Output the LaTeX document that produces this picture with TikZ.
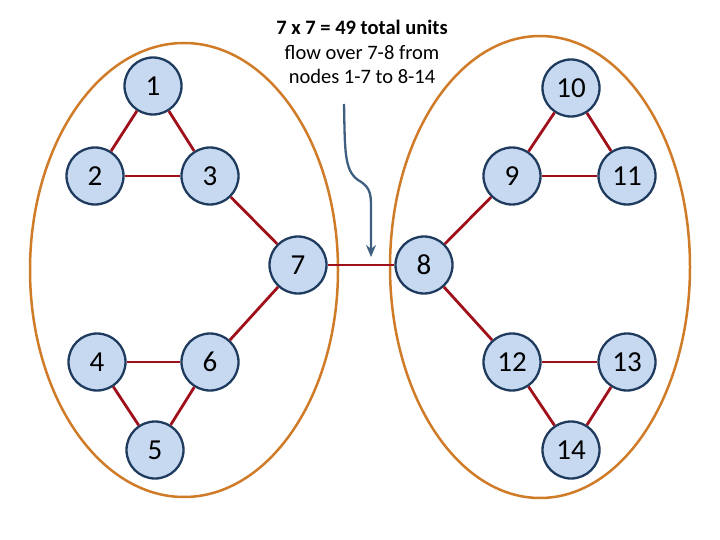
\documentclass[tikz,border=0pt]{standalone}
\usepackage{fontspec}
\setmainfont{Carlito}
\usetikzlibrary{arrows.meta}
\definecolor{nodefill}{HTML}{C6D9F1}
\definecolor{nodeline}{HTML}{1F3B5E}
\definecolor{edgered}{HTML}{A0101A}
\definecolor{ellorange}{HTML}{D07B28}
\definecolor{arrowblue}{HTML}{3E5F80}
\begin{document}
\begin{tikzpicture}[x=1pt,y=-1pt,
  vert/.style={circle,draw=nodeline,fill=nodefill,line width=2.3pt,minimum size=57pt,inner sep=0pt,font=\fontsize{29}{32}\selectfont},
  edge/.style={draw=edgered,line width=2.8pt},
  group/.style={draw=ellorange,line width=2.5pt}]
\useasboundingbox (0,0) rectangle (720,540);
\draw[group] (184,270) ellipse [x radius=154, y radius=227];
\draw[group] (540,267) ellipse [x radius=150, y radius=231];
\node[vert] (n1) at (153,86) {1};
\node[vert] (n2) at (95,176) {2};
\node[vert] (n3) at (210,176) {3};
\node[vert] (n7) at (298,265) {7};
\node[vert] (n4) at (97,362) {4};
\node[vert] (n6) at (210,362) {6};
\node[vert] (n5) at (155,450) {5};
\node[vert] (n8) at (424,265) {8};
\node[vert] (n9) at (512,176) {9};
\node[vert] (n10) at (571,88) {10};
\node[vert] (n11) at (627,176) {11};
\node[vert] (n12) at (512,362) {12};
\node[vert] (n13) at (627,362) {13};
\node[vert] (n14) at (571,450) {14};
\foreach \a/\b in {n1/n2,n1/n3,n2/n3,n3/n7,n7/n6,n6/n4,n4/n5,n5/n6,n7/n8,n8/n9,n9/n10,n10/n11,n9/n11,n8/n12,n12/n13,n12/n14,n13/n14}
  \draw[edge] (\a) -- (\b);
\node[align=center,font=\fontsize{20.5}{24.5}\selectfont] (lbl) at (362,52) {\textbf{7 x 7 = 49 total units}\\flow over 7-8 from\\nodes 1-7 to 8-14};
\coordinate (as) at (344,104);
\coordinate (ae) at (371,257);
\draw[arrowblue,line width=2.3pt,-{Stealth[length=12pt,width=10pt]}] (as) .. controls (345,150) and (344,170) .. (358,180) .. controls (372,188) and (371,195) .. (371,215) -- (ae);
\end{tikzpicture}
\end{document}
